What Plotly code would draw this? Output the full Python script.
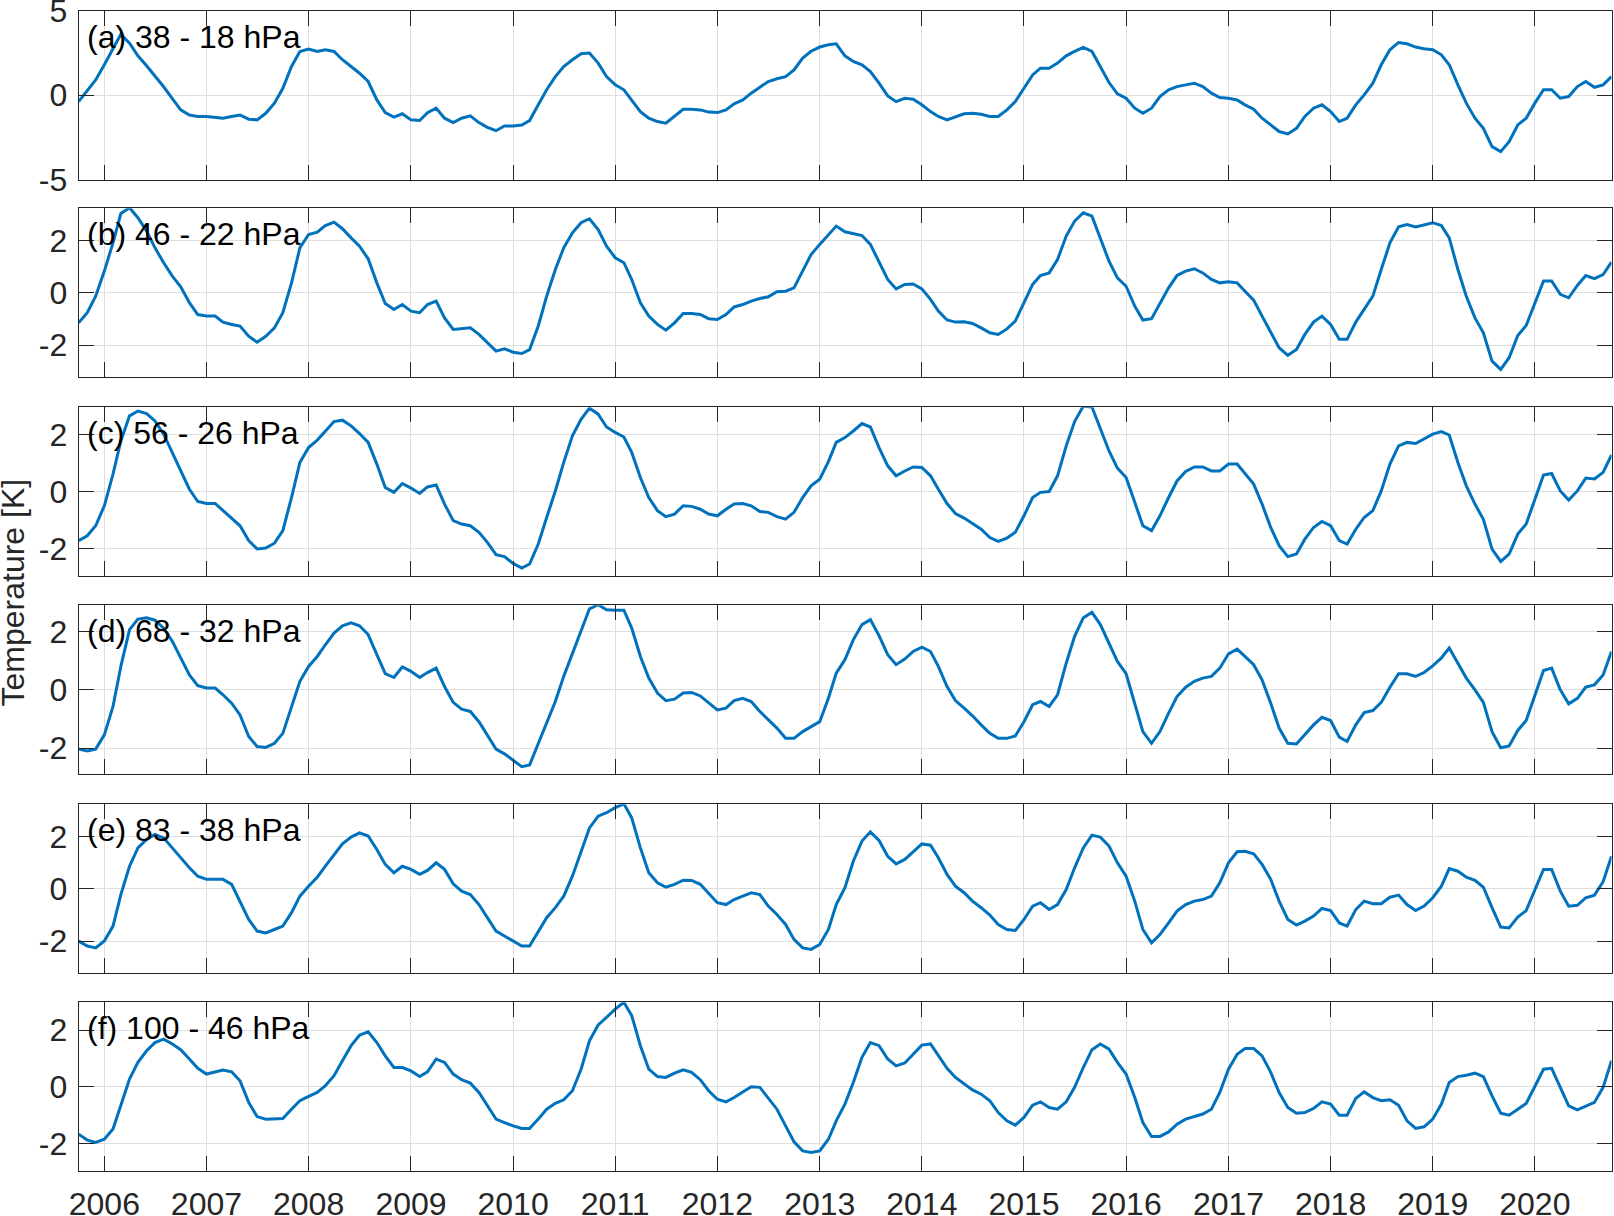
import pandas as pd
import plotly.graph_objects as go

# ---------------- data ----------------
months = pd.date_range("2005-10-01", periods=181, freq="MS")
years = list(range(2006, 2021))
year_labels = [str(y) for y in years]

panel_labels = ["(a) 38 - 18 hPa", "(b) 46 - 22 hPa", "(c) 56 - 26 hPa",
                "(d) 68 - 32 hPa", "(e) 83 - 38 hPa", "(f) 100 - 46 hPa"]

temp_a = [
    -0.38, 0.28, 0.9, 1.8, 2.7, 3.6, 3.08, 2.33, 1.74, 1.15, 0.5, -0.2,
    -0.87, -1.17, -1.26, -1.26, -1.3, -1.36, -1.26, -1.17, -1.42, -1.46, -1.07, -0.47,
    0.41, 1.7, 2.59, 2.73, 2.59, 2.69, 2.59, 2.1, 1.7, 1.3, 0.81, -0.28,
    -1.03, -1.3, -1.1, -1.46, -1.5, -1.03, -0.77, -1.36, -1.62, -1.36, -1.22, -1.62,
    -1.9, -2.1, -1.82, -1.82, -1.76, -1.5, -0.57, 0.32, 1.1, 1.7, 2.1, 2.45,
    2.49, 1.9, 1.1, 0.61, 0.32, -0.28, -0.97, -1.36, -1.56, -1.66, -1.26, -0.83,
    -0.83, -0.87, -1.0, -1.03, -0.87, -0.51, -0.28, 0.12, 0.47, 0.81, 0.97, 1.1,
    1.5, 2.2, 2.6, 2.85, 2.98, 3.04, 2.33, 2.0, 1.8, 1.4, 0.71, -0.04,
    -0.38, -0.18, -0.24, -0.57, -0.97, -1.26, -1.46, -1.26, -1.1, -1.07, -1.13, -1.26,
    -1.26, -0.87, -0.38, 0.41, 1.2, 1.6, 1.6, 1.9, 2.33, 2.59, 2.83, 2.59,
    1.7, 0.75, 0.08, -0.18, -0.77, -1.07, -0.77, -0.08, 0.32, 0.51, 0.61, 0.71,
    0.51, 0.12, -0.14, -0.18, -0.28, -0.57, -0.83, -1.36, -1.76, -2.15, -2.29, -1.96,
    -1.26, -0.77, -0.57, -0.97, -1.56, -1.36, -0.57, 0.02, 0.71, 1.8, 2.69, 3.12,
    3.04, 2.85, 2.75, 2.69, 2.39, 1.8, 0.61, -0.47, -1.36, -1.96, -3.04, -3.34,
    -2.75, -1.76, -1.36, -0.47, 0.32, 0.32, -0.18, -0.08, 0.51, 0.81, 0.47, 0.61, 1.1,
]

temp_b = [
    -1.15, -0.76, -0.13, 0.83, 1.91, 3.03, 3.25, 2.87, 2.36, 1.72, 1.15, 0.64,
    0.23, -0.38, -0.83, -0.89, -0.89, -1.12, -1.21, -1.27, -1.66, -1.89, -1.66, -1.34,
    -0.76, 0.38, 1.72, 2.23, 2.32, 2.57, 2.7, 2.45, 2.1, 1.78, 1.3, 0.38,
    -0.41, -0.64, -0.45, -0.7, -0.76, -0.45, -0.32, -0.96, -1.4, -1.38, -1.34, -1.59,
    -1.91, -2.23, -2.14, -2.27, -2.32, -2.17, -1.27, -0.13, 0.89, 1.72, 2.29, 2.68,
    2.83, 2.42, 1.78, 1.34, 1.15, 0.51, -0.38, -0.89, -1.21, -1.43, -1.15, -0.79,
    -0.79, -0.83, -0.99, -1.02, -0.83, -0.54, -0.45, -0.32, -0.22, -0.15, 0.04, 0.06,
    0.19, 0.83, 1.46, 1.85, 2.24, 2.55, 2.33, 2.25, 2.19, 1.85, 1.15, 0.51,
    0.15, 0.32, 0.34, 0.15, -0.25, -0.7, -1.04, -1.12, -1.11, -1.17, -1.34, -1.53,
    -1.59, -1.38, -1.08, -0.38, 0.32, 0.66, 0.76, 1.27, 2.17, 2.74, 3.06, 2.93,
    2.1, 1.21, 0.57, 0.25, -0.51, -1.04, -0.99, -0.38, 0.19, 0.66, 0.83, 0.92,
    0.76, 0.51, 0.38, 0.42, 0.38, 0.06, -0.28, -0.89, -1.53, -2.1, -2.39, -2.17,
    -1.59, -1.12, -0.89, -1.21, -1.78, -1.78, -1.12, -0.61, -0.13, 0.89, 1.91, 2.52,
    2.61, 2.52, 2.61, 2.68, 2.57, 2.1, 0.89, -0.13, -0.96, -1.53, -2.61, -2.93,
    -2.48, -1.63, -1.25, -0.38, 0.45, 0.45, -0.06, -0.19, 0.28, 0.66, 0.54, 0.7, 1.17,
]

temp_c = [
    -1.71, -1.54, -1.19, -0.49, 0.62, 1.78, 2.66, 2.83, 2.74, 2.48, 2.02, 1.38,
    0.79, 0.09, -0.34, -0.41, -0.41, -0.66, -0.92, -1.19, -1.71, -2.0, -1.97, -1.8,
    -1.36, -0.2, 1.03, 1.55, 1.81, 2.13, 2.46, 2.51, 2.31, 2.04, 1.73, 0.97,
    0.15, -0.02, 0.29, 0.13, -0.06, 0.17, 0.24, -0.43, -1.01, -1.13, -1.19, -1.42,
    -1.77, -2.2, -2.27, -2.51, -2.67, -2.53, -1.83, -0.9, 0.03, 1.03, 1.96, 2.54,
    2.93, 2.72, 2.27, 2.08, 1.92, 1.38, 0.5, -0.2, -0.66, -0.87, -0.78, -0.49,
    -0.51, -0.61, -0.78, -0.84, -0.61, -0.43, -0.41, -0.49, -0.69, -0.72, -0.87, -0.96,
    -0.72, -0.2, 0.21, 0.44, 1.06, 1.73, 1.9, 2.13, 2.39, 2.27, 1.55, 0.91,
    0.56, 0.73, 0.87, 0.85, 0.56, 0.09, -0.41, -0.76, -0.92, -1.11, -1.31, -1.6,
    -1.74, -1.62, -1.42, -0.84, -0.2, -0.02, 0.01, 0.56, 1.61, 2.46, 3.0, 2.97,
    2.19, 1.43, 0.83, 0.5, -0.37, -1.19, -1.36, -0.84, -0.2, 0.38, 0.71, 0.87,
    0.87, 0.73, 0.73, 0.97, 0.97, 0.62, 0.27, -0.43, -1.25, -1.89, -2.27, -2.18,
    -1.66, -1.25, -1.04, -1.19, -1.71, -1.83, -1.31, -0.9, -0.66, 0.03, 0.97, 1.61,
    1.73, 1.69, 1.84, 2.02, 2.11, 1.99, 1.03, 0.21, -0.43, -0.96, -2.01, -2.44,
    -2.18, -1.48, -1.13, -0.26, 0.59, 0.64, 0.03, -0.29, 0.03, 0.48, 0.45, 0.68, 1.29,
]

temp_d = [
    -2.03, -2.09, -2.03, -1.54, -0.57, 0.8, 2.06, 2.42, 2.46, 2.38, 2.11, 1.66,
    1.09, 0.51, 0.14, 0.06, 0.06, -0.17, -0.46, -0.86, -1.6, -1.94, -1.97, -1.83,
    -1.49, -0.57, 0.29, 0.8, 1.14, 1.54, 1.94, 2.19, 2.29, 2.19, 1.89, 1.2,
    0.55, 0.42, 0.78, 0.63, 0.42, 0.59, 0.74, 0.11, -0.43, -0.66, -0.74, -1.09,
    -1.54, -2.03, -2.19, -2.4, -2.63, -2.57, -1.83, -1.09, -0.4, 0.46, 1.26, 2.06,
    2.77, 2.91, 2.74, 2.72, 2.72, 2.11, 1.14, 0.4, -0.11, -0.37, -0.32, -0.11,
    -0.09, -0.21, -0.46, -0.69, -0.63, -0.37, -0.29, -0.4, -0.74, -1.03, -1.31, -1.66,
    -1.66, -1.43, -1.25, -1.09, -0.29, 0.57, 1.03, 1.71, 2.23, 2.4, 1.85, 1.2,
    0.86, 1.05, 1.31, 1.46, 1.31, 0.8, 0.11, -0.37, -0.63, -0.89, -1.2, -1.49,
    -1.66, -1.66, -1.58, -1.09, -0.51, -0.4, -0.57, -0.17, 0.91, 1.83, 2.46, 2.65,
    2.23, 1.6, 0.97, 0.55, -0.43, -1.43, -1.83, -1.43, -0.8, -0.23, 0.09, 0.29,
    0.4, 0.46, 0.74, 1.23, 1.39, 1.14, 0.86, 0.34, -0.46, -1.31, -1.83, -1.85,
    -1.54, -1.2, -0.94, -1.05, -1.62, -1.77, -1.2, -0.78, -0.71, -0.43, 0.09, 0.55,
    0.55, 0.46, 0.59, 0.82, 1.09, 1.43, 0.91, 0.4, 0.0, -0.43, -1.43, -1.98,
    -1.92, -1.39, -1.05, -0.17, 0.66, 0.74, 0.0, -0.48, -0.29, 0.09, 0.17, 0.51, 1.31,
]

temp_e = [
    -1.99, -2.18, -2.25, -1.99, -1.42, -0.22, 0.86, 1.56, 1.88, 2.07, 1.94, 1.56,
    1.18, 0.8, 0.48, 0.36, 0.36, 0.36, 0.17, -0.47, -1.17, -1.61, -1.68, -1.55,
    -1.42, -0.91, -0.28, 0.1, 0.44, 0.86, 1.31, 1.71, 1.97, 2.13, 2.01, 1.5,
    0.93, 0.61, 0.86, 0.74, 0.55, 0.7, 0.99, 0.74, 0.19, -0.09, -0.22, -0.6,
    -1.1, -1.61, -1.8, -1.99, -2.18, -2.18, -1.61, -1.1, -0.72, -0.28, 0.48, 1.43,
    2.32, 2.77, 2.9, 3.09, 3.24, 2.7, 1.56, 0.61, 0.23, 0.06, 0.17, 0.33,
    0.32, 0.17, -0.19, -0.53, -0.6, -0.41, -0.28, -0.15, -0.22, -0.66, -0.98, -1.36,
    -1.93, -2.25, -2.31, -2.12, -1.55, -0.6, 0.04, 1.05, 1.82, 2.17, 1.84, 1.24,
    0.95, 1.12, 1.41, 1.71, 1.66, 1.18, 0.55, 0.1, -0.15, -0.47, -0.72, -1.0,
    -1.36, -1.55, -1.59, -1.17, -0.66, -0.53, -0.79, -0.6, -0.03, 0.8, 1.56, 2.04,
    1.97, 1.63, 0.99, 0.48, -0.47, -1.55, -2.06, -1.74, -1.3, -0.85, -0.6, -0.47,
    -0.41, -0.28, 0.23, 0.99, 1.41, 1.43, 1.33, 0.93, 0.36, -0.47, -1.17, -1.38,
    -1.23, -1.04, -0.75, -0.83, -1.3, -1.42, -0.79, -0.47, -0.57, -0.57, -0.32, -0.24,
    -0.6, -0.83, -0.66, -0.34, 0.1, 0.77, 0.67, 0.44, 0.32, 0.06, -0.72, -1.46,
    -1.49, -1.08, -0.83, -0.03, 0.74, 0.74, -0.09, -0.66, -0.63, -0.34, -0.24, 0.27, 1.24,
]

temp_f = [
    -1.67, -1.88, -1.96, -1.85, -1.49, -0.67, 0.27, 0.86, 1.27, 1.56, 1.68, 1.51,
    1.31, 0.98, 0.65, 0.45, 0.51, 0.59, 0.53, 0.21, -0.55, -1.05, -1.14, -1.14,
    -1.12, -0.79, -0.49, -0.34, -0.2, 0.04, 0.39, 0.92, 1.45, 1.82, 1.94, 1.56,
    1.09, 0.68, 0.68, 0.56, 0.36, 0.53, 0.98, 0.86, 0.45, 0.25, 0.13, -0.2,
    -0.67, -1.14, -1.26, -1.38, -1.47, -1.47, -1.14, -0.79, -0.58, -0.46, -0.14, 0.62,
    1.62, 2.18, 2.45, 2.74, 2.98, 2.51, 1.45, 0.62, 0.36, 0.33, 0.48, 0.6,
    0.51, 0.25, -0.14, -0.44, -0.53, -0.38, -0.18, 0.0, -0.02, -0.38, -0.79, -1.38,
    -1.94, -2.26, -2.32, -2.26, -1.85, -1.2, -0.61, 0.15, 1.04, 1.56, 1.45, 0.98,
    0.74, 0.84, 1.15, 1.47, 1.51, 1.09, 0.65, 0.33, 0.09, -0.11, -0.26, -0.49,
    -0.91, -1.2, -1.35, -1.08, -0.65, -0.53, -0.73, -0.79, -0.53, -0.02, 0.68, 1.31,
    1.51, 1.33, 0.86, 0.45, -0.38, -1.26, -1.75, -1.75, -1.59, -1.32, -1.14, -1.05,
    -0.96, -0.79, -0.2, 0.62, 1.15, 1.35, 1.35, 1.09, 0.51, -0.2, -0.73, -0.93,
    -0.91, -0.76, -0.53, -0.61, -1.0, -1.0, -0.41, -0.18, -0.38, -0.49, -0.46, -0.65,
    -1.2, -1.47, -1.41, -1.14, -0.61, 0.15, 0.36, 0.41, 0.48, 0.36, -0.32, -0.93,
    -1.0, -0.79, -0.59, 0.01, 0.62, 0.65, -0.02, -0.67, -0.81, -0.69, -0.55, -0.02, 0.92,
]

series = [temp_a, temp_b, temp_c, temp_d, temp_e, temp_f]
y_limits = [5, 3.23, 2.96, 2.89, 3.22, 2.98]
y_ticks = [[-5, 0, 5], [-2, 0, 2], [-2, 0, 2], [-2, 0, 2], [-2, 0, 2], [-2, 0, 2]]
y_tick_text = [["-5", "0", "5"], ["-2", "0", "2"], ["-2", "0", "2"],
               ["-2", "0", "2"], ["-2", "0", "2"], ["-2", "0", "2"]]

# ---------------- layout ----------------
W, H = 1614, 1216
FONT = "Liberation Sans, Arial, Helvetica, sans-serif"
FS = 32
INK = "#262626"
GRID = "#dedede"
LINE = "#0072BD"

x_dom = [78.6 / W, 1611.5 / W]
panel_tops = [10.7, 208.3, 407.3, 605.3, 804.3, 1002.3]
panel_h = 169.0

fig = go.Figure()
layout = {}
annotations = []
year_ticks = [pd.Timestamp(f"{y}-01-01") for y in years]

for k, vals in enumerate(series):
    suf = "" if k == 0 else str(k + 1)
    fig.add_trace(go.Scatter(
        x=months, y=vals, mode="lines",
        line=dict(color=LINE, width=3),
        xaxis="x" + suf, yaxis="y" + suf, showlegend=False,
        hoverinfo="x+y",
    ))
    top = panel_tops[k]
    dom_y = [1 - (top + panel_h) / H, 1 - top / H]
    layout["xaxis" + suf] = dict(
        domain=x_dom, anchor="y" + suf,
        range=[months[0], months[-1]],
        tickmode="array", tickvals=year_ticks, ticktext=year_labels,
        showticklabels=(k == 5),
        ticks="inside", ticklen=15, tickwidth=1, tickcolor=INK,
        showline=True, linecolor=INK, linewidth=1, mirror="ticks",
        showgrid=True, gridcolor=GRID, gridwidth=1,
        zeroline=False, automargin=False,
        tickfont=dict(family=FONT, size=FS, color=INK),
        ticklabelstandoff=4, ticklabeloverflow="allow",
    )
    if k > 0:
        layout["xaxis" + suf]["matches"] = "x"
    lim = y_limits[k]
    layout["yaxis" + suf] = dict(
        domain=dom_y, anchor="x" + suf,
        range=[-lim, lim],
        tickmode="array", tickvals=y_ticks[k], ticktext=y_tick_text[k],
        ticks="inside", ticklen=15, tickwidth=1, tickcolor=INK,
        showline=True, linecolor=INK, linewidth=1, mirror="ticks",
        showgrid=True, gridcolor=GRID, gridwidth=1,
        zeroline=False, automargin=False,
        tickfont=dict(family=FONT, size=FS, color=INK),
        ticklabelstandoff=4, ticklabeloverflow="allow",
    )
    annotations.append(dict(
        text=panel_labels[k], xref="x" + suf + " domain", yref="y" + suf + " domain",
        x=0.004, y=1 - 26 / panel_h, xanchor="left", yanchor="middle",
        showarrow=False, font=dict(family=FONT, size=FS, color="#000000"),
    ))

annotations.append(dict(
    text="Temperature [K]", xref="paper", yref="paper",
    x=12.5 / W, y=1 - 593 / H, xanchor="center", yanchor="middle",
    textangle=-90, showarrow=False,
    font=dict(family=FONT, size=FS, color=INK),
))

fig.update_layout(
    width=W, height=H,
    margin=dict(l=0, r=0, t=0, b=0, autoexpand=False),
    paper_bgcolor="white", plot_bgcolor="white",
    annotations=annotations,
    **layout,
)

fig.write_html(
    "out.html",
    config={"displayModeBar": False},
    post_script="document.body.style.margin='0';document.body.style.overflow='hidden';",
)
